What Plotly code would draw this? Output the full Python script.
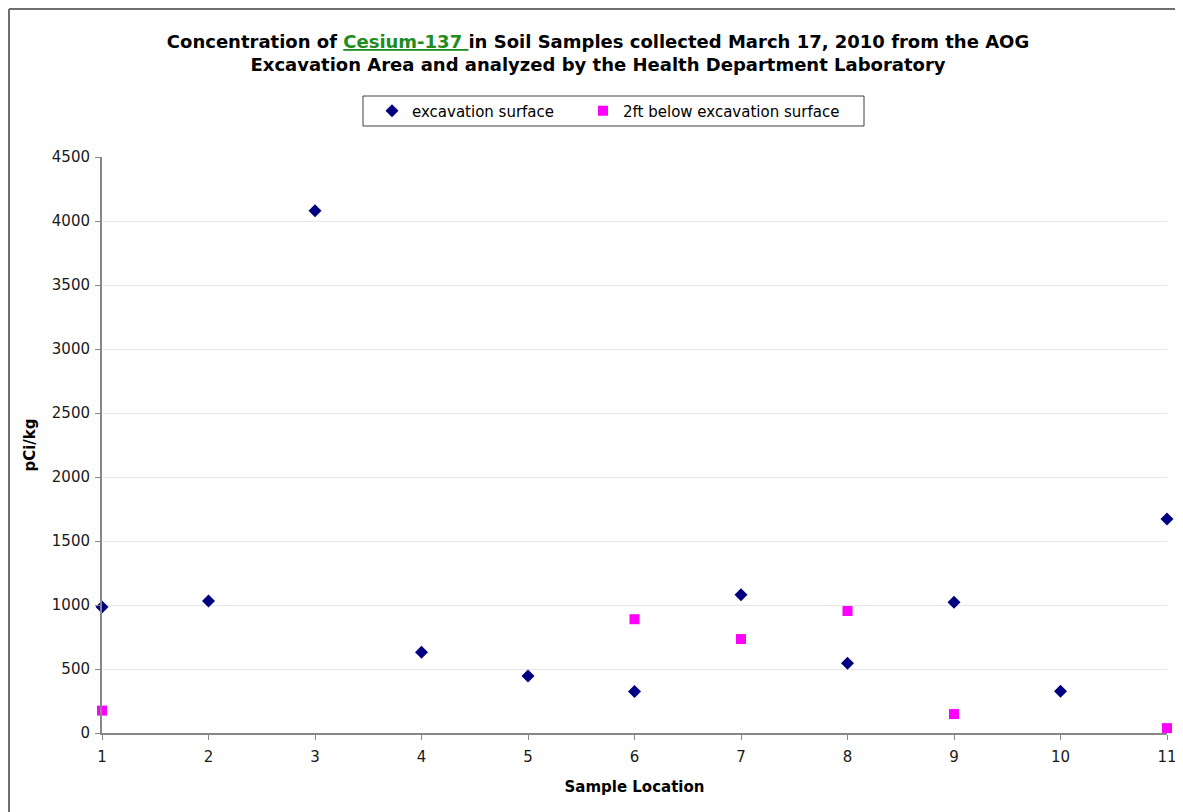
import plotly.graph_objects as go

locations = [1, 2, 3, 4, 5, 6, 7, 8, 9, 10, 11]
surface = [984, 1031, 4080, 630, 445, 325, 1080, 545, 1022, 327, 1672]
below_2ft = [175, None, None, None, None, 889, 734, 953, 148, None, 38]
x_ticks = [1, 2, 3, 4, 5, 6, 7, 8, 9, 10, 11]
y_ticks = [0, 500, 1000, 1500, 2000, 2500, 3000, 3500, 4000, 4500]

FONT = "DejaVu Sans, Arial, sans-serif"

# page offset (body margin) of 8 px is compensated in margins
PL, PR, PT, PB = 102, 1167, 157, 733      # plot area in page pixels
OFF = 8


def px(xp):
    return (xp - PL) / (PR - PL)


def py(yp):
    return (PB - yp) / (PB - PT)


fig = go.Figure()
fig.add_trace(go.Scatter(
    x=locations, y=surface, mode="markers", name="excavation surface",
    marker=dict(symbol="diamond", size=10, color="#000080"),
    cliponaxis=False, legend="legend",
))
fig.add_trace(go.Scatter(
    x=locations, y=below_2ft, mode="markers", name="2ft below excavation surface",
    marker=dict(symbol="square", size=10, color="#FF00FF"),
    cliponaxis=False, legend="legend2",
))

title_text = ("<b>Concentration of <span style=\"color:#1E8C1E;text-decoration:underline\">Cesium-137 </span>"
              "in Soil Samples collected March 17, 2010 from the AOG<br>"
              "Excavation Area and analyzed by the Health Department Laboratory</b>")

legend_common = dict(orientation="h", yanchor="middle", y=py(111),
                     borderwidth=0, bgcolor="rgba(0,0,0,0)",
                     font=dict(family=FONT, size=15, color="#000000"),
                     itemwidth=30, xanchor="left")

fig.update_layout(
    width=1183, height=812,
    margin=dict(l=PL - OFF, r=1183 - (PR - OFF), t=PT - OFF, b=812 - (PB - OFF)),
    paper_bgcolor="white", plot_bgcolor="white",
    font=dict(family=FONT, size=15, color="#1A1A1A"),
    title=dict(text=title_text, x=(598 - OFF) / 1183, xanchor="center",
               y=1 - 40 / 812, yanchor="top", yref="container",
               font=dict(family=FONT, size=18, color="#000000")),
    showlegend=True,
    legend=dict(x=px(372), **legend_common),
    legend2=dict(x=px(583), **legend_common),
    xaxis=dict(range=[1, 11], tickvals=x_ticks, ticktext=[str(v) for v in x_ticks],
               showgrid=False, zeroline=False, showline=True, linecolor="#868686",
               linewidth=2, ticks="outside", ticklen=5, tickcolor="#868686",
               ticklabelstandoff=4,
               tickfont=dict(family=FONT, size=15, color="#1A1A1A"),
               title=dict(text="<b>Sample Location</b>",
                          font=dict(family=FONT, size=15, color="#000000"),
                          standoff=16)),
    yaxis=dict(range=[0, 4500], tickvals=y_ticks, ticktext=[str(v) for v in y_ticks],
               showgrid=True, gridcolor="#E6E6E6", gridwidth=1, zeroline=False,
               showline=True, linecolor="#868686", linewidth=2,
               ticks="outside", ticklen=5, tickcolor="#868686",
               ticklabelstandoff=2,
               tickfont=dict(family=FONT, size=15, color="#1A1A1A"),
               title=dict(text="<b>pCi/kg</b>",
                          font=dict(family=FONT, size=15, color="#000000"),
                          standoff=13)),
    shapes=[
        # legend box
        dict(type="rect", xref="paper", yref="paper",
             x0=px(363), x1=px(864), y0=py(126), y1=py(96),
             line=dict(color="#404040", width=1), fillcolor="rgba(0,0,0,0)", layer="above"),
        # chart frame (top and left edges)
        dict(type="line", xref="paper", yref="paper",
             x0=px(9), x1=1.2, y0=py(9), y1=py(9),
             line=dict(color="#6E6E6E", width=2)),
        dict(type="line", xref="paper", yref="paper",
             x0=px(9), x1=px(9), y0=py(9), y1=-0.3,
             line=dict(color="#6E6E6E", width=2)),
    ],
)

fig.write_html("out.html")
